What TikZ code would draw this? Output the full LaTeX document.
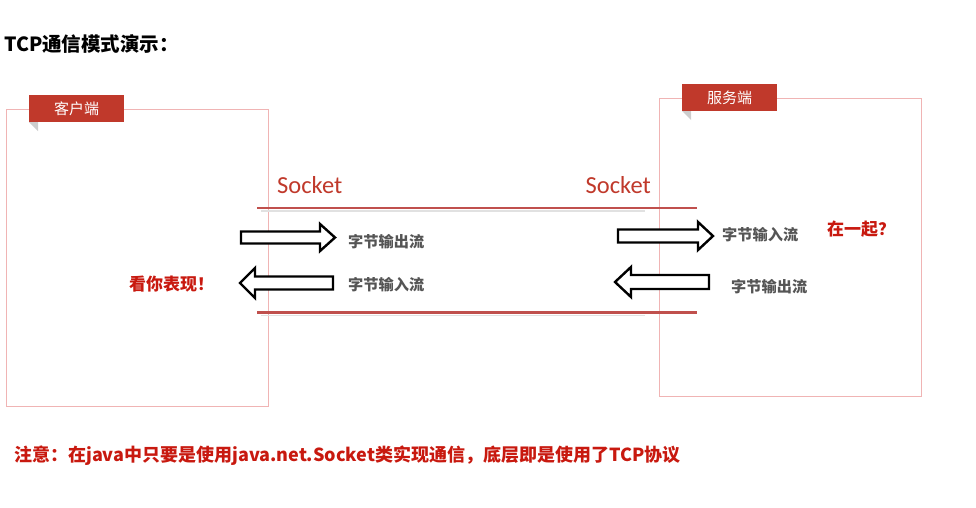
\documentclass[tikz,border=0pt]{standalone}
\usepackage{fontspec}
\newfontfamily\cjk{Noto Sans CJK SC}
\newfontfamily\cali{Carlito}
\definecolor{tagred}{RGB}{192,57,43}
\definecolor{boxpink}{RGB}{240,180,180}
\definecolor{linered}{RGB}{192,80,77}
\definecolor{sockred}{RGB}{192,57,43}
\definecolor{textred}{RGB}{200,25,15}
\definecolor{labelgray}{RGB}{85,85,85}
\definecolor{foldgray}{RGB}{205,205,205}
\definecolor{shadowgray}{RGB}{225,225,225}
\tikzset{
  boxline/.style={draw=boxpink, line width=1pt, inner sep=0pt, anchor=north west},
  tagbox/.style={fill=tagred, text=white, inner sep=0pt, anchor=north west, font=\cjk\fontsize{15}{17}\selectfont},
  sockline/.style={draw=linered, line width=2.6pt},
  sockshadow/.style={draw=shadowgray, line width=1.5pt},
  sockfont/.style={text=sockred, inner sep=0pt, font=\cali\fontsize{24.5}{26}\selectfont},
  hollow/.style={draw=black, line width=2.4pt, line join=miter, fill=white},
  flowlabel/.style={text=labelgray, inner sep=0pt, anchor=west, font=\cjk\bfseries\fontsize{15.2}{17}\selectfont},
  redlabel/.style={text=textred, inner sep=0pt, anchor=west, font=\cjk\bfseries\fontsize{17}{19}\selectfont},
}
\begin{document}
\begin{tikzpicture}[x=1pt,y=-1pt]
\useasboundingbox (0,0) rectangle (976,507);
% title
\node[anchor=west, inner sep=0pt, font=\cjk\bfseries\fontsize{19.5}{21}\selectfont] (title) at (4,44) {TCP通信模式演示：};
% client box
\node[boxline, minimum width=262pt, minimum height=297pt] (client) at (6,109) {};
\node[tagbox, minimum width=95pt, minimum height=27pt] (ctag) at (29,95) {客户端};
\fill[foldgray] (29,122) -- (38,122) -- (38,131) -- cycle;
% server box
\node[boxline, minimum width=262pt, minimum height=298pt] (server) at (659,98) {};
\node[tagbox, minimum width=95pt, minimum height=27pt] (stag) at (682,84) {服务端};
\fill[foldgray] (682,111) -- (691,111) -- (691,120) -- cycle;
% socket lines
\coordinate (tl) at (257,208);
\coordinate (tr) at (697,208);
\coordinate (bl) at (257,312.5);
\coordinate (br) at (697,312.5);
\coordinate (tls) at (261,211);
\coordinate (trs) at (645,211);
\coordinate (bls) at (261,315.5);
\coordinate (brs) at (645,315.5);
\draw[sockshadow] (tls) -- (trs);
\draw[sockshadow] (bls) -- (brs);
\draw[sockline] (tl) -- (tr);
\draw[sockline] (bl) -- (br);
\node[sockfont, anchor=south west] (sockl) at (277,194) {Socket};
\node[sockfont, anchor=south east] (sockr) at (651,194) {Socket};
% arrows client
\draw[hollow] (241,231.5) -- (320,231.5) -- (320,224) -- (335,237.5) -- (320,251) -- (320,243.5) -- (241,243.5) -- cycle;
\draw[hollow] (333,276.5) -- (255,276.5) -- (255,268) -- (240,283) -- (255,298) -- (255,289.5) -- (333,289.5) -- cycle;
% arrows server
\draw[hollow] (618,229.5) -- (698,229.5) -- (698,222) -- (713,236) -- (698,250) -- (698,242.5) -- (618,242.5) -- cycle;
\draw[hollow] (709,275) -- (631,275) -- (631,267) -- (615,282) -- (631,297) -- (631,289) -- (709,289) -- cycle;
% labels
\node[flowlabel] (cout) at (348,241.5) {字节输出流};
\node[flowlabel] (cin) at (348,285) {字节输入流};
\node[flowlabel] (sin) at (722,235) {字节输入流};
\node[flowlabel] (sout) at (731,287) {字节输出流};
\node[redlabel] (look) at (129,284) {看你表现！};
\node[redlabel] (tog) at (827,229.5) {在一起？};
% note
\node[anchor=west, inner sep=0pt, text=textred, font=\cjk\bfseries\fontsize{18}{20}\selectfont] (note) at (14,456) {注意：在java中只要是使用java.net.Socket类实现通信，底层即是使用了TCP协议};
\end{tikzpicture}
\end{document}
